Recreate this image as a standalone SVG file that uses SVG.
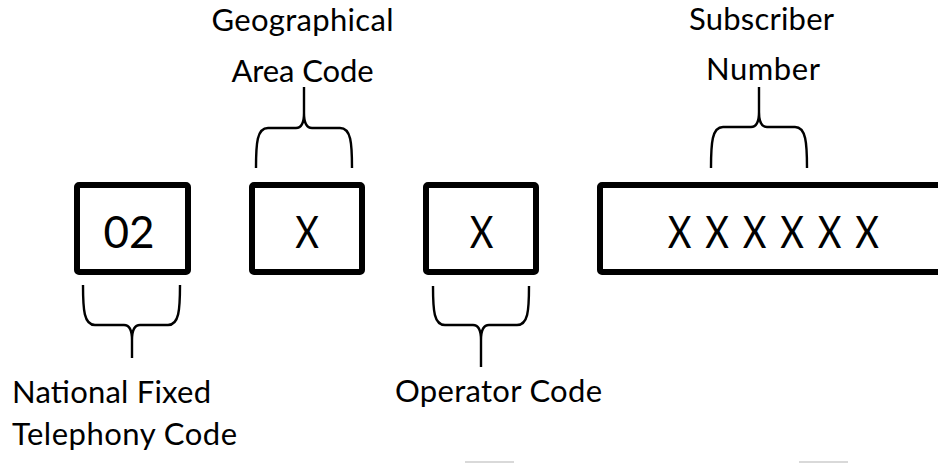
<svg xmlns="http://www.w3.org/2000/svg" width="938" height="463" viewBox="0 0 938 463">
<style>
.box{fill:#fff;stroke:#000;stroke-width:6;}
.val{font-family:Lato,"Liberation Sans",sans-serif;font-size:44px;fill:#000;text-anchor:middle;}
.lbl{font-family:Lato,"Liberation Sans",sans-serif;font-size:31px;fill:#000;}
.brace{fill:none;stroke:#000;stroke-width:2.4;stroke-linecap:butt;stroke-linejoin:round;}
</style>
<rect width="938" height="463" fill="#fff"/>
<g id="national">
<rect class="box" x="77" y="185" width="111" height="87" rx="2"/>
<text class="val" x="129" y="248">02</text>
</g>
<g id="area">
<rect class="box" x="252" y="185" width="110" height="87" rx="2"/>
<text class="val" transform="translate(307,0) scale(0.83,1)" x="0" y="248">X</text>
</g>
<g id="operator">
<rect class="box" x="426" y="185" width="110" height="87" rx="2"/>
<text class="val" transform="translate(481.5,0) scale(0.83,1)" x="0" y="248">X</text>
</g>
<g id="subscriber">
<rect class="box" x="600" y="185" width="360" height="87" rx="2"/>
<text class="val" transform="translate(773,0) scale(0.83,1)" x="-112.65 -90.06 -67.47 -44.88 -22.29 0.3 22.89 45.48 68.07 90.66 113.25" y="248">X X X X X X</text>
</g>
<g id="connectors">
<path class="brace" d="M83,285 C83,310 84,325 95,325 L124,325 C130,325 132,330 132,340 L132,358 M180,285 C180,310 179,325 168,325 L140,325 C134,325 132,330 132,340"/>
<path class="brace" d="M433,286 C433,311 434,325 445,325 L473,325 C479,325 481,330 481,340 L481,367 M529,286 C529,311 528,325 517,325 L489,325 C483,325 481,330 481,340"/>
<path class="brace" d="M256,168 C256,143 257,128 268,128 L296,128 C302,128 304,123 304,113 L304,87 M352,168 C352,143 351,128 340,128 L312,128 C306,128 304,123 304,113"/>
<path class="brace" d="M711,168 C711,143 712,127 723,127 L751,127 C757,127 759,122 759,112 L759,87 M807,168 C807,143 806,127 795,127 L767,127 C761,127 759,122 759,112"/>
</g>
<g id="labels">
<text class="lbl" x="302.5" y="31" text-anchor="middle" textLength="182" lengthAdjust="spacing">Geographical</text>
<text class="lbl" x="302.5" y="82" text-anchor="middle" textLength="142" lengthAdjust="spacing">Area Code</text>
<text class="lbl" x="761.5" y="30" text-anchor="middle" textLength="145" lengthAdjust="spacing">Subscriber</text>
<text class="lbl" x="763" y="80" text-anchor="middle" textLength="114" lengthAdjust="spacing">Number</text>
<text class="lbl" x="498.5" y="402" text-anchor="middle" textLength="207" lengthAdjust="spacing">Operator Code</text>
<text class="lbl" x="12" y="403" textLength="199" lengthAdjust="spacing">National Fixed</text>
<text class="lbl" x="12" y="445" textLength="225" lengthAdjust="spacing">Telephony Code</text>
</g>
<line x1="465" y1="462" x2="514" y2="462" stroke="#d9d9d9" stroke-width="2"/>
<line x1="799" y1="462" x2="848" y2="462" stroke="#d9d9d9" stroke-width="2"/>
</svg>
